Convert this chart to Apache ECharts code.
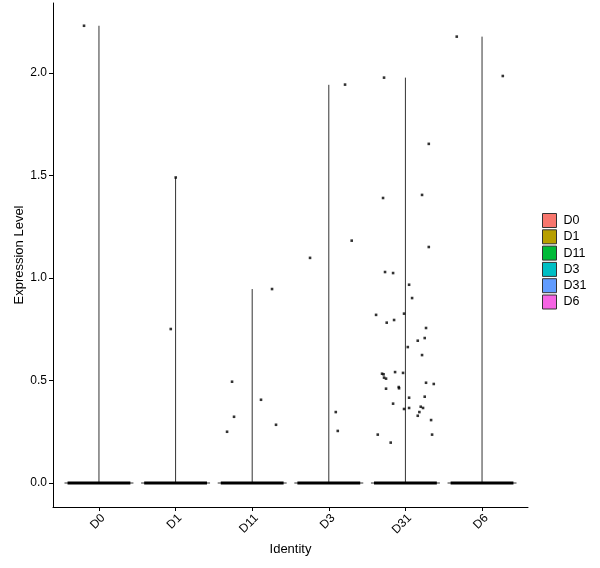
<!DOCTYPE html>
<html><head><meta charset="utf-8">
<script src="https://cdn.jsdelivr.net/npm/echarts@6/dist/echarts.min.js"></script>
<style>html,body{margin:0;padding:0;background:#fff}#c{width:600px;height:568px}</style>
</head><body><div id="c"></div>
<script>
const categories = ['D0','D1','D11','D3','D31','D6'];
const fillColors = ['#F8766D','#B79F00','#00BA38','#00BFC4','#619CFF','#F564E3'];
const maxValues = [2.23, 1.49, 0.946, 1.942, 1.977, 2.177];
const yTicks = [0, 0.5, 1.0, 1.5, 2.0];

// jittered non-zero cells: x position (axis units) and expression value
const d0X = [0.805];
const d0Y = [2.23];
const d1X = [1.937, 2.002];
const d1Y = [0.751, 1.49];
const d11X = [3.259, 2.737, 2.763, 2.672, 3.115, 3.311];
const d11Y = [0.946, 0.494, 0.323, 0.250, 0.406, 0.284];
const d3X = [3.755, 4.212, 4.299, 4.091, 4.117];
const d3Y = [1.098, 1.943, 1.182, 0.346, 0.254];
const d31X = [4.721, 4.708, 5.305, 5.217, 5.305, 4.734, 4.839, 5.048, 5.087, 4.617, 4.982, 4.756, 4.852, 5.269, 5.252, 5.161, 5.031, 5.217, 4.865, 4.969, 4.695, 4.715, 4.721, 4.747, 5.269, 5.370, 4.747, 4.913, 4.917, 5.252, 5.048, 4.839, 4.982, 5.048, 5.200, 5.230, 5.182, 5.161, 5.335, 4.639, 5.348, 4.808];
const d31Y = [1.977, 1.390, 1.654, 1.405, 1.151, 1.029, 1.024, 0.967, 0.902, 0.820, 0.826, 0.782, 0.795, 0.756, 0.707, 0.694, 0.663, 0.624, 0.541, 0.537, 0.533, 0.530, 0.514, 0.509, 0.489, 0.483, 0.460, 0.468, 0.462, 0.421, 0.416, 0.387, 0.361, 0.366, 0.372, 0.366, 0.346, 0.328, 0.307, 0.236, 0.236, 0.197];
const d6X = [5.670, 6.271];
const d6Y = [2.177, 1.985];

const allX = [d0X, d1X, d11X, d3X, d31X, d6X];
const allY = [d0Y, d1Y, d11Y, d3Y, d31Y, d6Y];

const chart = echarts.init(document.getElementById('c'), null, {renderer: 'canvas'});
const font = 'Arial, "Liberation Sans", sans-serif';

const series = categories.map((name, i) => ({
  name: name,
  type: 'custom',
  itemStyle: {color: fillColors[i]},
  data: [[i + 1, maxValues[i]]],
  renderItem: function (params, api) {
    const cx = api.value(0), mx = api.value(1);
    const pL = api.coord([cx - 0.45, 0]);
    const pR = api.coord([cx + 0.45, 0]);
    const jL = api.coord([cx - 0.41, 0]);
    const jR = api.coord([cx + 0.41, 0]);
    const top = api.coord([cx, mx]);
    return {
      type: 'group',
      children: [
        {type: 'line', shape: {x1: pL[0], y1: pL[1], x2: pR[0], y2: pR[1]}, style: {stroke: '#333', lineWidth: 1}},
        {type: 'line', shape: {x1: top[0], y1: pL[1], x2: top[0], y2: top[1]}, style: {stroke: '#333', lineWidth: 1}},
        {type: 'line', shape: {x1: jL[0], y1: jL[1], x2: jR[0], y2: jR[1]}, style: {stroke: '#000', lineWidth: 3}}
      ]
    };
  }
}));

const pts = [];
allX.forEach((xs, g) => xs.forEach((x, k) => pts.push([x, allY[g][k]])));
series.push({
  name: 'cells', type: 'scatter', data: pts, symbol: 'rect', symbolSize: 2.6,
  itemStyle: {color: '#000'}, silent: true, z: 5
});

chart.setOption({
  animation: false,
  backgroundColor: '#fff',
  grid: {left: 53, right: 72, top: 3, bottom: 61, containLabel: false, outerBoundsMode: 'none'},
  legend: {
    data: categories.map(c => ({name: c, icon: 'rect'})),
    orient: 'vertical', left: 542, top: 213, padding: 0,
    itemWidth: 14, itemHeight: 14, itemGap: 1.3,
    itemStyle: {borderColor: '#333', borderWidth: 1},
    textStyle: {fontFamily: font, fontSize: 12.5, color: '#000', padding: [0, 0, 0, 2]},
    selectedMode: false
  },
  xAxis: {
    type: 'value', min: 0.4, max: 6.6,
    name: 'Identity', nameLocation: 'middle', nameGap: 36, nameMoveOverlap: false,
    nameTextStyle: {fontFamily: font, fontSize: 13, color: '#000'},
    axisLine: {onZero: false, lineStyle: {color: '#000', width: 1}},
    axisTick: {customValues: [1,2,3,4,5,6], length: 4, lineStyle: {color: '#000'}},
    axisLabel: {customValues: [1,2,3,4,5,6], rotate: 45, margin: 5, verticalAlign: 'top',
      formatter: v => categories[Math.round(v) - 1],
      fontFamily: font, fontSize: 12, color: '#000'},
    splitLine: {show: false}
  },
  yAxis: {
    type: 'value', min: -0.117, max: 2.341,
    name: 'Expression Level', nameLocation: 'middle', nameGap: 27, nameMoveOverlap: false,
    nameTextStyle: {fontFamily: font, fontSize: 13, color: '#000'},
    axisLine: {show: true, onZero: false, lineStyle: {color: '#000', width: 1}},
    axisTick: {show: true, customValues: yTicks, length: 4, lineStyle: {color: '#000'}},
    axisLabel: {customValues: yTicks, margin: 6, formatter: v => v.toFixed(1),
      fontFamily: font, fontSize: 12, color: '#000'},
    splitLine: {show: false}
  },
  series: series
});
</script></body></html>
